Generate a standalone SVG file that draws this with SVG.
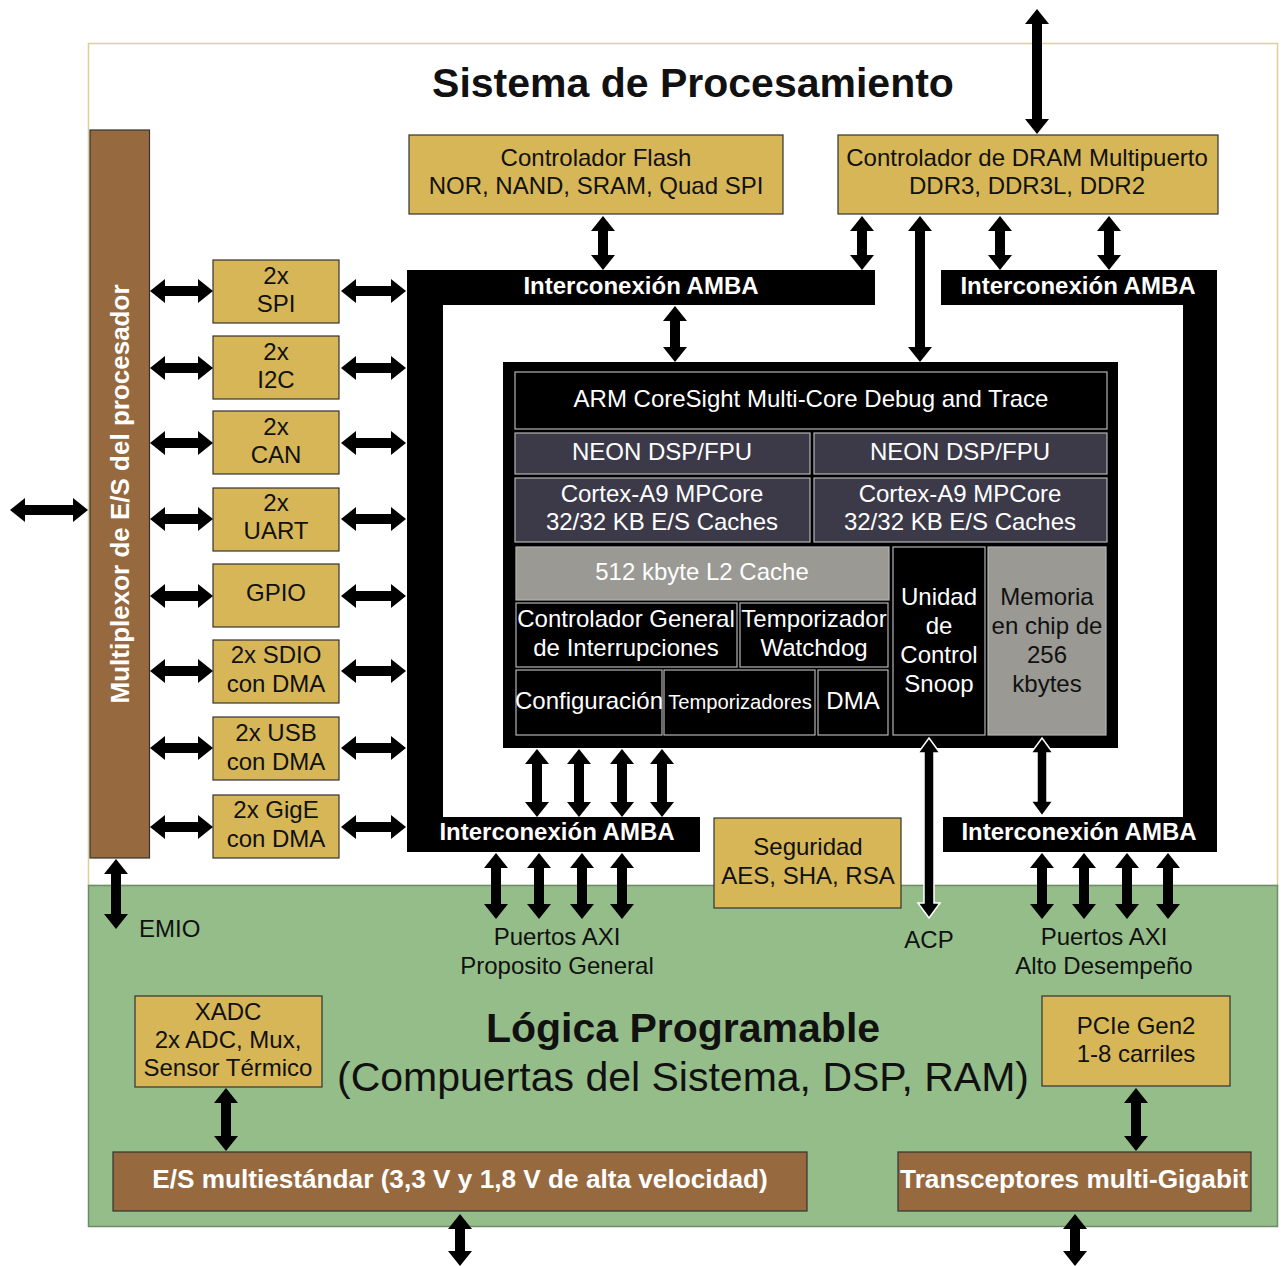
<svg xmlns="http://www.w3.org/2000/svg" width="1283" height="1266" viewBox="0 0 1283 1266">
  <defs>
    <marker id="ah" viewBox="0 0 15 24" refX="0" refY="12" markerWidth="15" markerHeight="24" markerUnits="userSpaceOnUse" orient="auto-start-reverse">
      <path d="M0,0 L15,12 L0,24 Z" fill="#000"/>
    </marker>
    <style>
      .t{font-family:"Liberation Sans",Arial,Helvetica,sans-serif;font-size:24px;text-anchor:middle;fill:#111}
      .w{fill:#fff}
      .b{font-weight:bold}
      .big{font-size:41px}
      .wide{font-size:26.2px}
      .box{fill:#d6b656;stroke:#333;stroke-width:1.2}
      .brown{fill:#96693f;stroke:#333;stroke-width:1.2}
      .dark{fill:#3c3a48;stroke:#b4b4b4;stroke-width:1.2}
      .blk{fill:#000;stroke:#b4b4b4;stroke-width:1.2}
      .gray{fill:#9a9994;stroke:#b4b4b4;stroke-width:1.2}
      .arr{stroke:#000;stroke-width:10;fill:none;marker-start:url(#ah);marker-end:url(#ah)}
      .oarr{fill:#000;stroke:#fff;stroke-width:1.5}
    </style>
  </defs>

  <rect width="1283" height="1266" fill="#fff"/>

  <!-- Processing system region -->
  <g id="ps-region">
    <rect x="88.5" y="43.5" width="1189" height="842" fill="#fff" stroke="#dccf9c" stroke-width="1.5"/>
    <text class="t b big" x="693" y="97">Sistema de Procesamiento</text>
  </g>

  <!-- Programmable logic region -->
  <g id="pl-region">
    <rect x="88.5" y="885.5" width="1189" height="341" fill="#95bd8a" stroke="#6f8c69" stroke-width="1.5"/>
    <text class="t b big" x="683" y="1042">Lógica Programable</text>
    <text class="t big" x="683" y="1091">(Compuertas del Sistema, DSP, RAM)</text>
  </g>

  <!-- I/O multiplexer -->
  <g id="mio">
    <rect class="brown" x="90" y="130" width="59.5" height="728"/>
    <text class="t w b" transform="translate(129,494) rotate(-90)" style="font-size:26px">Multiplexor de E/S del procesador</text>
  </g>

  <!-- Peripherals -->
  <g id="spi"><rect class="box" x="213" y="260" width="126" height="63"/><text class="t" x="276" y="284">2x</text><text class="t" x="276" y="312">SPI</text></g>
  <g id="i2c"><rect class="box" x="213" y="336" width="126" height="63"/><text class="t" x="276" y="360">2x</text><text class="t" x="276" y="388">I2C</text></g>
  <g id="can"><rect class="box" x="213" y="411" width="126" height="63"/><text class="t" x="276" y="435">2x</text><text class="t" x="276" y="463">CAN</text></g>
  <g id="uart"><rect class="box" x="213" y="488" width="126" height="63"/><text class="t" x="276" y="511">2x</text><text class="t" x="276" y="539">UART</text></g>
  <g id="gpio"><rect class="box" x="213" y="564" width="126" height="63"/><text class="t" x="276" y="601">GPIO</text></g>
  <g id="sdio"><rect class="box" x="213" y="640" width="126" height="63"/><text class="t" x="276" y="663">2x SDIO</text><text class="t" x="276" y="692">con DMA</text></g>
  <g id="usb"><rect class="box" x="213" y="717" width="126" height="63"/><text class="t" x="276" y="741">2x USB</text><text class="t" x="276" y="770">con DMA</text></g>
  <g id="gige"><rect class="box" x="213" y="795" width="126" height="63"/><text class="t" x="276" y="818">2x GigE</text><text class="t" x="276" y="847">con DMA</text></g>

  <!-- Memory controllers -->
  <g id="flash"><rect class="box" x="409" y="135" width="374" height="79"/><text class="t" x="596" y="166">Controlador Flash</text><text class="t" x="596" y="194">NOR, NAND, SRAM, Quad SPI</text></g>
  <g id="dram"><rect class="box" x="838" y="135" width="380" height="79"/><text class="t" x="1027" y="166">Controlador de DRAM Multipuerto</text><text class="t" x="1027" y="194">DDR3, DDR3L, DDR2</text></g>

  <!-- AMBA interconnects -->
  <g id="amba-left">
    <path d="M407,270 H875 V305 H443 V817 H700 V852 H407 Z" fill="#000"/>
    <text class="t w b" x="641" y="294">Interconexión AMBA</text>
    <text class="t w b" x="557" y="840">Interconexión AMBA</text>
  </g>
  <g id="amba-right">
    <path d="M941,270 H1217 V852 H943 V817 H1183 V305 H941 Z" fill="#000"/>
    <text class="t w b" x="1078" y="294">Interconexión AMBA</text>
    <text class="t w b" x="1079" y="840">Interconexión AMBA</text>
  </g>

  <!-- Application processor unit -->
  <g id="apu">
    <rect x="503" y="362" width="615" height="386" fill="#000"/>
    <rect class="blk" x="515" y="372" width="592" height="57"/>
    <text class="t w" x="811" y="407">ARM CoreSight Multi-Core Debug and Trace</text>
    <rect class="dark" x="515" y="433" width="295" height="41"/>
    <text class="t w" x="662" y="460">NEON DSP/FPU</text>
    <rect class="dark" x="814" y="433" width="293" height="41"/>
    <text class="t w" x="960" y="460">NEON DSP/FPU</text>
    <rect class="dark" x="515" y="478" width="295" height="64"/>
    <text class="t w" x="662" y="502">Cortex-A9 MPCore</text>
    <text class="t w" x="662" y="530">32/32 KB E/S Caches</text>
    <rect class="dark" x="814" y="478" width="293" height="64"/>
    <text class="t w" x="960" y="502">Cortex-A9 MPCore</text>
    <text class="t w" x="960" y="530">32/32 KB E/S Caches</text>
    <rect class="gray" x="516" y="547" width="373" height="53"/>
    <text class="t w" x="702" y="580">512 kbyte L2 Cache</text>
    <rect class="blk" x="516" y="603" width="221" height="64"/>
    <text class="t w" x="626" y="627">Controlador General</text>
    <text class="t w" x="626" y="656">de Interrupciones</text>
    <rect class="blk" x="740" y="603" width="148" height="64"/>
    <text class="t w" x="814" y="627">Temporizador</text>
    <text class="t w" x="814" y="656">Watchdog</text>
    <rect class="blk" x="516" y="670" width="146" height="65"/>
    <text class="t w" x="589" y="709">Configuración</text>
    <rect class="blk" x="664" y="670" width="151" height="65"/>
    <text class="t w" x="740" y="709" style="font-size:20.2px">Temporizadores</text>
    <rect class="blk" x="818" y="670" width="70" height="65"/>
    <text class="t w" x="853" y="709">DMA</text>
    <rect class="blk" x="893" y="547" width="92" height="188"/>
    <text class="t w" x="939" y="605">Unidad</text>
    <text class="t w" x="939" y="634">de</text>
    <text class="t w" x="939" y="663">Control</text>
    <text class="t w" x="939" y="692">Snoop</text>
    <rect class="gray" x="988" y="547" width="118" height="188"/>
    <text class="t" x="1047" y="605">Memoria</text>
    <text class="t" x="1047" y="634">en chip de</text>
    <text class="t" x="1047" y="663">256</text>
    <text class="t" x="1047" y="692">kbytes</text>
  </g>

  <!-- Security block -->
  <g id="security"><rect class="box" x="714" y="818" width="187" height="90"/><text class="t" x="808" y="855">Seguridad</text><text class="t" x="808" y="884">AES, SHA, RSA</text></g>

  <!-- PL blocks -->
  <g id="xadc"><rect class="box" x="135" y="996" width="187" height="91"/><text class="t" x="228" y="1020">XADC</text><text class="t" x="228" y="1048">2x ADC, Mux,</text><text class="t" x="228" y="1076">Sensor Térmico</text></g>
  <g id="pcie"><rect class="box" x="1042" y="996" width="188" height="90"/><text class="t" x="1136" y="1034">PCIe Gen2</text><text class="t" x="1136" y="1062">1-8 carriles</text></g>
  <g id="selectio"><rect class="brown" x="113" y="1152" width="694" height="59"/><text class="t w b wide" x="460" y="1188">E/S multiestándar (3,3 V y 1,8 V de alta velocidad)</text></g>
  <g id="gtx"><rect class="brown" x="898" y="1152" width="353" height="59"/><text class="t w b wide" x="1074" y="1188">Transceptores multi-Gigabit</text></g>

  <!-- Port labels -->
  <g id="labels">
    <text class="t" x="139" y="937" style="text-anchor:start">EMIO</text>
    <text class="t" x="557" y="945">Puertos AXI</text>
    <text class="t" x="557" y="974">Proposito General</text>
    <text class="t" x="929" y="948">ACP</text>
    <text class="t" x="1104" y="945">Puertos AXI</text>
    <text class="t" x="1104" y="974">Alto Desempeño</text>
  </g>

  <!-- Connectors -->
  <g id="connectors">
    <line class="arr" x1="25" y1="510" x2="73" y2="510"/>
    <!-- MIO to peripherals and peripherals to AMBA -->
    <line class="arr" x1="165" y1="291" x2="198" y2="291"/><line class="arr" x1="356" y1="291" x2="391" y2="291"/>
    <line class="arr" x1="165" y1="368" x2="198" y2="368"/><line class="arr" x1="356" y1="368" x2="391" y2="368"/>
    <line class="arr" x1="165" y1="443" x2="198" y2="443"/><line class="arr" x1="356" y1="443" x2="391" y2="443"/>
    <line class="arr" x1="165" y1="519" x2="198" y2="519"/><line class="arr" x1="356" y1="519" x2="391" y2="519"/>
    <line class="arr" x1="165" y1="596" x2="198" y2="596"/><line class="arr" x1="356" y1="596" x2="391" y2="596"/>
    <line class="arr" x1="165" y1="671" x2="198" y2="671"/><line class="arr" x1="356" y1="671" x2="391" y2="671"/>
    <line class="arr" x1="165" y1="748" x2="198" y2="748"/><line class="arr" x1="356" y1="748" x2="391" y2="748"/>
    <line class="arr" x1="165" y1="827" x2="198" y2="827"/><line class="arr" x1="356" y1="827" x2="391" y2="827"/>
    <!-- memory side -->
    <line class="arr" x1="1037" y1="24" x2="1037" y2="119"/>
    <line class="arr" x1="603" y1="231" x2="603" y2="255"/>
    <line class="arr" x1="862" y1="231" x2="862" y2="255"/>
    <line class="arr" x1="675" y1="321" x2="675" y2="347"/>
    <line class="arr" x1="920" y1="231" x2="920" y2="347"/>
    <line class="arr" x1="1000" y1="231" x2="1000" y2="255"/>
    <line class="arr" x1="1109" y1="231" x2="1109" y2="255"/>
    <!-- APU to lower AMBA -->
    <line class="arr" x1="537" y1="764" x2="537" y2="802"/>
    <line class="arr" x1="579" y1="764" x2="579" y2="802"/>
    <line class="arr" x1="622" y1="764" x2="622" y2="802"/>
    <line class="arr" x1="662" y1="764" x2="662" y2="802"/>
    <!-- AXI ports -->
    <line class="arr" x1="496" y1="868" x2="496" y2="904"/>
    <line class="arr" x1="539" y1="868" x2="539" y2="904"/>
    <line class="arr" x1="582" y1="868" x2="582" y2="904"/>
    <line class="arr" x1="622" y1="868" x2="622" y2="904"/>
    <line class="arr" x1="1042" y1="868" x2="1042" y2="904"/>
    <line class="arr" x1="1084" y1="868" x2="1084" y2="904"/>
    <line class="arr" x1="1127" y1="868" x2="1127" y2="904"/>
    <line class="arr" x1="1168" y1="868" x2="1168" y2="904"/>
    <!-- EMIO and PL links -->
    <line class="arr" x1="116" y1="874" x2="116" y2="914"/>
    <line class="arr" x1="226" y1="1103" x2="226" y2="1136"/>
    <line class="arr" x1="1136" y1="1103" x2="1136" y2="1136"/>
    <line class="arr" x1="460" y1="1229" x2="460" y2="1251"/>
    <line class="arr" x1="1075" y1="1229" x2="1075" y2="1251"/>
    <!-- ACP and OCM links -->
    <path class="oarr" d="M929,738 L940,753 L934,753 L934,903 L940,903 L929,918 L918,903 L924,903 L924,753 L918,753 Z"/>
    <path class="oarr" d="M1042,738 L1053,753 L1047,753 L1047,801 L1053,801 L1042,816 L1031,801 L1037,801 L1037,753 L1031,753 Z"/>
  </g>
</svg>
